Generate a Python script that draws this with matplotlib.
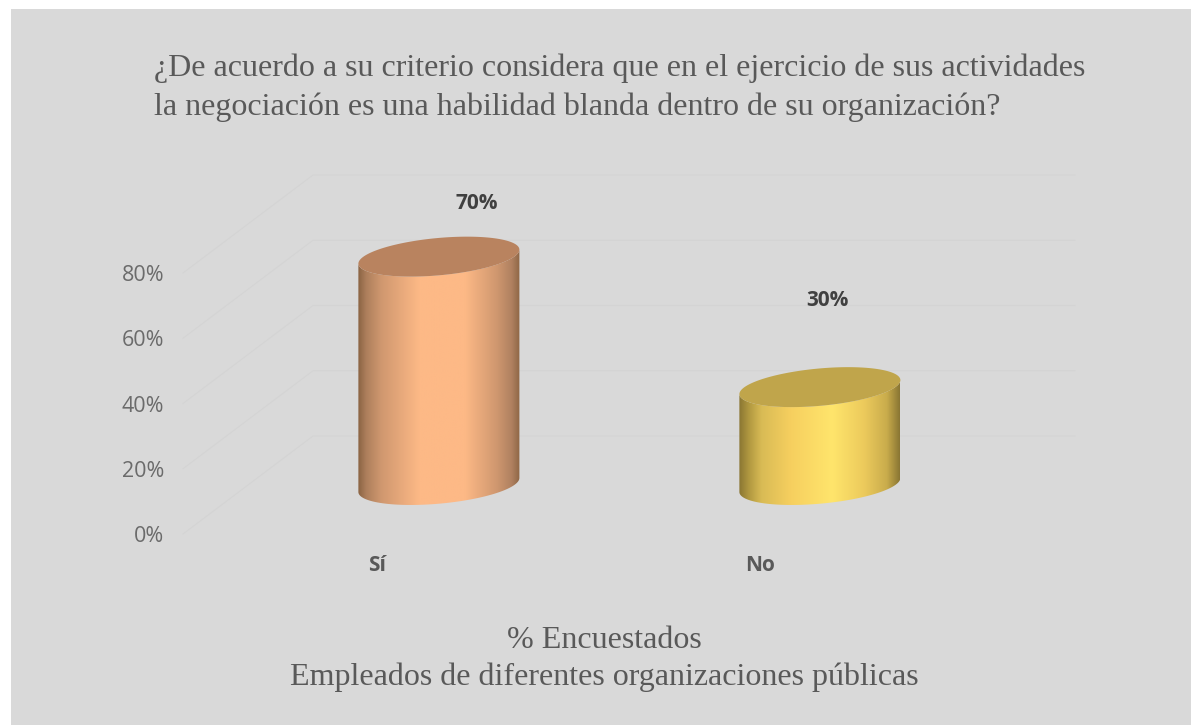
import numpy as np
import matplotlib
matplotlib.use("Agg")
import matplotlib.pyplot as plt
from matplotlib.colors import LinearSegmentedColormap
from matplotlib.patches import Polygon, Rectangle
from matplotlib.ticker import FuncFormatter

# Survey results
categories = ["Sí", "No"]
values = [70, 30]
axis_ticks = [0, 20, 40, 60, 80]
value_labels = ["70%", "30%"]
title_lines = [
    "¿De acuerdo a su criterio considera que en el ejercicio de sus actividades",
    "la negociación es una habilidad blanda dentro de su organización?",
]
caption_lines = ["% Encuestados", "Empleados de diferentes organizaciones públicas"]

W, H = 1191, 725
PANEL = "#d9d9d9"
TEXT = "#595959"
GRID = "#d4d4d4"

# Plot floor geometry, in pixels
LEFT, RIGHT, BASE, TOP80 = 183, 945, 534, 273
PX_PER_UNIT_Y = (BASE - TOP80) / 80
PX_PER_CAT = (RIGHT - LEFT) / 2
# Oblique depth of the floor
DX = 130 / PX_PER_CAT
DY = 98 / PX_PER_UNIT_Y

# Cylinder shape
HALF_WIDTH = 80.5 / PX_PER_CAT
MINOR = 18.7 / PX_PER_UNIT_Y
SHEAR = 7 / PX_PER_UNIT_Y

body_maps = [
    LinearSegmentedColormap.from_list("si", [
        (0, "#8a6343"), (0.05, "#ad7f5c"), (0.14, "#cf976f"), (0.38, "#fdb986"),
        (0.66, "#fdb986"), (0.86, "#cf976f"), (0.95, "#b08160"), (1, "#8e6646")]),
    LinearSegmentedColormap.from_list("no", [
        (0, "#8a7633"), (0.06, "#b09840"), (0.14, "#d9bb55"), (0.32, "#f6cf5f"),
        (0.58, "#ffe56c"), (0.78, "#ecca5c"), (0.92, "#c9ac4c"), (1, "#8a7633")]),
]
cap_colors = ["#b9835f", "#c0a54b"]
label_offsets = [(38, 53), (8, 87)]

fig = plt.figure(figsize=(W / 100, H / 100), dpi=100, facecolor="white")
fig.add_artist(Rectangle((11 / W, 0), 1 - 11 / W, 1 - 9 / H,
                         transform=fig.transFigure, fc=PANEL, ec="none", zorder=-5))

ax = fig.add_axes([LEFT / W, 1 - BASE / H, (RIGHT - LEFT) / W, (BASE - TOP80) / H])
ax.patch.set_visible(False)
for spine in ax.spines.values():
    spine.set_visible(False)

# Axis labels
ax.set_yticks(axis_ticks)
ax.yaxis.set_major_formatter(FuncFormatter(lambda v, _: f"{v:.0f}%"))
ax.tick_params(axis="y", length=0, pad=13.5, labelsize=15.5, labelcolor="#6b6b6b")
ax.set_xticks([0.009, 1.014])
ax.set_xticklabels(categories, fontweight="bold", fontsize=15, color=TEXT)
ax.tick_params(axis="x", length=0, pad=15)
for lab in ax.get_yticklabels() + ax.get_xticklabels():
    lab.set_family("Open Sans")

# Side wall and back wall gridlines
for v in axis_ticks:
    ax.plot([-0.5, -0.5 + DX, 1.5 + DX], [v, v + DY, v + DY], color=GRID, lw=0.8,
            clip_on=False, zorder=1, solid_joinstyle="miter")

# Cylinders stand at mid depth on the floor
for i, v in enumerate(values):
    cx = i + DX / 2 + 0.001
    y0 = DY / 2
    t = np.linspace(0, np.pi, 90)
    dx = HALF_WIDTH * np.cos(t)
    # Lower arc runs right to left, upper arc closes the cap
    lower = np.column_stack([cx + dx, y0 + SHEAR * np.cos(t) - MINOR * np.sin(t)])
    upper = np.column_stack([cx + dx[::-1], y0 + v + SHEAR * np.cos(t[::-1]) + MINOR * np.sin(t[::-1])])
    cap_low = np.column_stack([cx + dx, y0 + v + SHEAR * np.cos(t) - MINOR * np.sin(t)])

    outline = Polygon(np.vstack([lower, cap_low[::-1]]), closed=True, transform=ax.transData,
                      fc="none", ec="none", clip_on=False)
    ax.add_patch(outline)
    shade = ax.imshow(np.linspace(0, 1, 256)[None, :], cmap=body_maps[i], aspect="auto",
                      extent=[cx - HALF_WIDTH, cx + HALF_WIDTH, y0 - 10, y0 + v + 10],
                      zorder=3, interpolation="bilinear")
    # The shaded body may rise above the axes box, so only the outline limits it
    shade.set_clip_box(fig.bbox)
    shade.set_clip_path(outline)

    ax.add_patch(Polygon(np.vstack([cap_low, upper]), closed=True, fc=cap_colors[i],
                         ec="none", zorder=4, clip_on=False))

    ox, oy = label_offsets[i]
    ax.annotate(value_labels[i], xy=(cx, y0 + v), xytext=(ox * 0.72, oy * 0.72),
                textcoords="offset points", ha="center", va="center",
                fontsize=15, fontweight="bold", color="#404040",
                family="Open Sans", annotation_clip=False)

ax.set_xlim(-0.5, 1.5)
ax.set_ylim(0, 80)

# Title and caption in serif
for line, y in zip(title_lines, [68, 107]):
    fig.text(154 / W, 1 - y / H, line, family="Liberation Serif", fontsize=23,
             color=TEXT, ha="left", va="center")
for line, y in zip(caption_lines, [640, 677]):
    fig.text(604 / W, 1 - y / H, line, family="Liberation Serif", fontsize=23,
             color=TEXT, ha="center", va="center")

fig.savefig("out.png", dpi=100, facecolor="white")
